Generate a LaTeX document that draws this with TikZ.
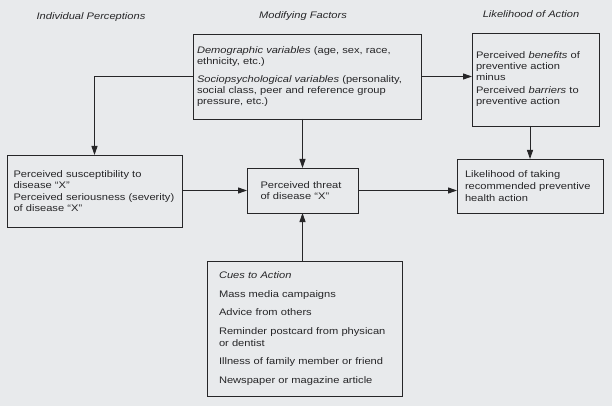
\documentclass[tikz,border=0pt]{standalone}
\usepackage{fontspec}
\setmainfont[FakeStretch=1.17]{Liberation Sans}
\usetikzlibrary{arrows.meta}
\definecolor{paper}{RGB}{232,234,236}
\definecolor{ink}{RGB}{38,38,40}
\begin{document}
\begin{tikzpicture}[x=1pt,y=-1pt,
		box/.style={draw=ink, line width=0.9pt, align=left, inner sep=0pt, outer sep=0pt, text=ink, font=\fontsize{9.5}{11}\selectfont},
		head/.style={text=ink, font=\fontsize{9.5}{11}\selectfont\itshape},
		link/.style={draw=ink, line width=0.9pt, -{Triangle[length=9pt,width=6pt]}}]
		% Paper
		\fill[paper] (0,0) rectangle (612,406);
		\useasboundingbox (0,0) rectangle (612,406);
		
		% Column headings
		\node[head] (hind) at (91,17) {Individual Perceptions};
		\node[head] (hmod) at (303,16) {Modifying Factors};
		\node[head] (hlik) at (531,14) {Likelihood of Action};
		
		% Modifying factors
		\node[box, minimum width=228pt, minimum height=85pt, text width=220pt] (demo) at (307,76.5) {\textit{Demographic variables} (age, sex, race,\\ ethnicity, etc.)\\[7pt]
			\textit{Sociopsychological variables} (personality,\\ social class, peer and reference group\\ pressure, etc.)};
		\node[box, minimum width=111pt, minimum height=45pt, text width=84pt] (threat) at (302.5,190.5) {Perceived threat\\ of disease ``X''};
		\node[box, minimum width=195pt, minimum height=135pt, text width=171pt, font=\fontsize{9.5}{12}\selectfont] (cues) at (304.5,328.5) {\textit{Cues to Action}\\[6.5pt]
			Mass media campaigns\\[6.5pt]
			Advice from others\\[6.5pt]
			Reminder postcard from physican\\ or dentist\\[6.5pt]
			Illness of family member or friend\\[6.5pt]
			Newspaper or magazine article};
		
		% Individual perceptions
		\node[box, minimum width=175pt, minimum height=72pt, text width=162pt] (susc) at (94.5,191) {Perceived susceptibility to\\ disease ``X''\\[1pt]
			Perceived seriousness (severity)\\ of disease ``X''};
		
		% Likelihood of action
		\node[box, minimum width=127pt, minimum height=93pt, text width=119pt] (bene) at (535.5,79.5) {Perceived \textit{benefits} of\\ preventive action\\
			minus\\[2pt]
			Perceived \textit{barriers} to\\ preventive action};
		\node[box, minimum width=146pt, minimum height=54pt, text width=130pt, font=\fontsize{9.5}{12}\selectfont] (likely) at (530,186) {Likelihood of taking\\ recommended preventive\\ health action};
		
		% Links
		\draw[link] (demo.west) -| (susc.north);
		\draw[link] (demo.east) -- (demo.east -| bene.west);
		\draw[link] (threat |- demo.south) -- (threat.north);
		\draw[link] (likely |- bene.south) -- (likely.north);
		\draw[link] (susc.east |- threat) -- (threat.west);
		\draw[link] (threat.east) -- (threat.east -| likely.west);
		\draw[link] (threat |- cues.north) -- (threat.south);
	\end{tikzpicture}
\end{document}
